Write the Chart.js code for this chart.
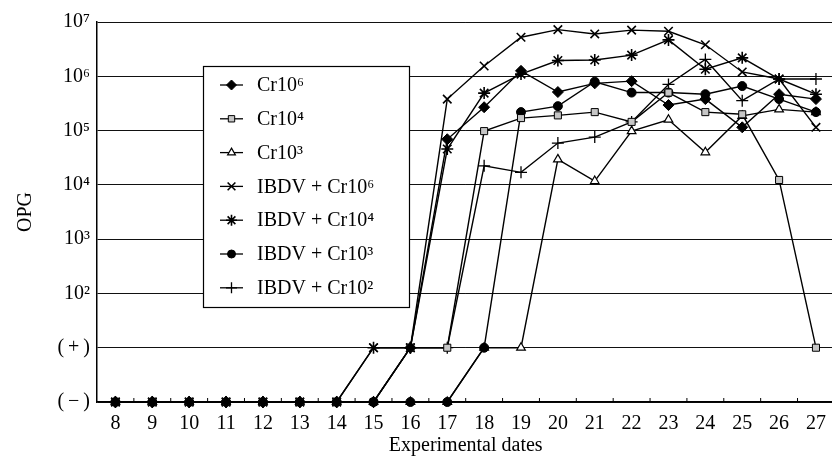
<!DOCTYPE html>
<html lang="en">
<head>
<meta charset="UTF-8" />
<title>OPG by experimental date</title>
<script src="https://cdn.jsdelivr.net/npm/chart.js"></script>
<style>
  html, body { margin: 0; background: #fff; overflow: hidden; }
  .wrap { width: 842px; height: 463px; }
</style>
</head>
<body>
<div class="wrap"><canvas id="opgChart" width="842" height="463"></canvas></div>
<script>
// categories and axis labels
const dates = ["8", "9", "10", "11", "12", "13", "14", "15", "16", "17",
  "18", "19", "20", "21", "22", "23", "24", "25", "26", "27"];
const levelLabels = ["(\u2009\u2212\u2009)", "(\u2009+\u2009)", "10²", "10³", "10⁴", "10⁵", "10⁶", "10⁷"];
const seriesNames = ["Cr10⁶", "Cr10⁴", "Cr10³", "IBDV + Cr10⁶", "IBDV + Cr10⁴", "IBDV + Cr10³", "IBDV + Cr10²"];

// values on the OPG level scale: 0 = (−), 1 = (+), k = 10^k
const cr6 = [0, 0, 0, 0, 0, 0, 0, 0, 1, 4.84, 5.43, 6.10, 5.71, 5.87, 5.91, 5.47, 5.58, 5.06, 5.67, 5.58];
const cr4 = [0, 0, 0, 0, 0, 0, 0, 0, 1, 1, 4.99, 5.23, 5.28, 5.34, 5.16, 5.70, 5.34, 5.30, 4.09, 1];
const cr3 = [0, 0, 0, 0, 0, 0, 0, 0, 0, 0, 1, 1, 4.47, 4.07, 4.99, 5.20, 4.60, 5.27, 5.39, 5.34];
const ibdvCr6 = [0, 0, 0, 0, 0, 0, 0, 1, 1, 5.58, 6.19, 6.72, 6.86, 6.78, 6.85, 6.83, 6.58, 6.08, 5.95, 5.06];
const ibdvCr4 = [0, 0, 0, 0, 0, 0, 0, 1, 1, 4.66, 5.69, 6.04, 6.29, 6.30, 6.39, 6.67, 6.13, 6.34, 5.95, 5.67];
const ibdvCr3 = [0, 0, 0, 0, 0, 0, 0, 0, 0, 0, 1, 5.34, 5.45, 5.90, 5.70, 5.70, 5.67, 5.82, 5.58, 5.34];
const ibdvCr2 = [0, 0, 0, 0, 0, 0, 0, 0, 1, 1, 4.35, 4.23, 4.77, 4.88, 5.16, 5.85, 6.31, 5.55, 5.95, 5.95];

const seriesValues = [cr6, cr4, cr3, ibdvCr6, ibdvCr4, ibdvCr3, ibdvCr2];
const markers = [
  { style: "rectRot", fill: "#000", r: 5.5, bw: 1, order: 0 },
  { style: "rect", fill: "#c6c6c6", r: 5, bw: 1, order: 0 },
  { style: "triangle", fill: "#fff", r: 5, bw: 1.2, order: 1 },
  { style: "crossRot", fill: "#000", r: 6, bw: 1.6, order: 0 },
  { style: "star", fill: "#000", r: 6, bw: 1.6, order: 0 },
  { style: "circle", fill: "#000", r: 4.5, bw: 1, order: 0 },
  { style: "cross", fill: "#000", r: 6, bw: 1.3, order: 0 },
];

const serif = "'Liberation Serif', 'DejaVu Serif', serif";

// legend box inside the plot, plus short inward ticks on the x axis
const boxLegend = {
  id: "boxLegend",
  afterDraw(chart) {
    const ctx = chart.ctx;
    const xs = chart.scales.x;
    ctx.save();
    ctx.strokeStyle = "#000";
    ctx.lineWidth = 1;
    ctx.beginPath();
    for (let i = 1; i <= dates.length; i++) {
      const x = i < dates.length
        ? (xs.getPixelForValue(i - 1) + xs.getPixelForValue(i)) / 2
        : xs.right;
      ctx.moveTo(x, xs.top);
      ctx.lineTo(x, xs.top - 4);
    }
    ctx.stroke();

    const left = 203, top = 66, w = 206, h = 241;
    ctx.fillStyle = "#fff";
    ctx.fillRect(left, top, w, h);
    ctx.lineWidth = 1.2;
    ctx.strokeRect(left + 0.5, top + 0.5, w, h);
    ctx.font = "20px " + serif;
    ctx.textBaseline = "middle";
    seriesNames.forEach((name, i) => {
      const y = top + 19 + i * 33.8;
      const m = markers[i];
      ctx.strokeStyle = "#000";
      ctx.lineWidth = 1.3;
      ctx.beginPath();
      ctx.moveTo(left + 17, y);
      ctx.lineTo(left + 40, y);
      ctx.stroke();
      ctx.fillStyle = m.fill;
      ctx.lineWidth = m.bw;
      Chart.helpers.drawPoint(ctx, { pointStyle: m.style, radius: m.r - 0.5, borderWidth: m.bw, rotation: 0 }, left + 28.5, y);
      ctx.fillStyle = "#000";
      ctx.fillText(name, left + 54, y + 1);
    });
    ctx.restore();
  },
};

new Chart(document.getElementById("opgChart").getContext("2d"), {
  type: "line",
  data: {
    labels: dates,
    datasets: seriesValues.map((vals, i) => ({
      label: seriesNames[i],
      data: vals,
      order: markers[i].order,
      borderColor: "#000",
      borderWidth: 1.4,
      pointStyle: markers[i].style,
      pointRadius: markers[i].r,
      pointBorderWidth: markers[i].bw,
      pointBackgroundColor: markers[i].fill,
      pointBorderColor: "#000",
      tension: 0,
      fill: false,
      clip: false,
    })),
  },
  options: {
    responsive: false,
    animation: false,
    devicePixelRatio: 1,
    layout: { padding: { top: 22, right: 2, left: 0, bottom: 0 } },
    plugins: {
      legend: { display: false },
      tooltip: { enabled: false },
    },
    scales: {
      x: {
        offset: true,
        grid: { display: false },
        border: { display: true, color: "#000", width: 1.5 },
        ticks: { color: "#000", padding: 2, font: { family: serif, size: 20 }, maxRotation: 0, autoSkip: false },
        title: { display: true, text: "Experimental dates", color: "#000", font: { family: serif, size: 20 }, padding: { top: 0, bottom: 5 } },
        afterFit(scale) { scale.height = 61; },
      },
      y: {
        min: 0,
        max: 7,
        grid: { color: "#111", lineWidth: 1, drawTicks: false },
        border: { display: true, color: "#000", width: 1.5 },
        ticks: {
          stepSize: 1,
          color: "#000",
          padding: 7,
          font: { family: serif, size: 20 },
          callback: (v) => levelLabels[v],
        },
        title: { display: true, text: "OPG", color: "#000", font: { family: serif, size: 20 }, padding: { top: 14, bottom: 0 } },
        afterFit(scale) { scale.width = 97; },
      },
    },
  },
  plugins: [boxLegend],
});
</script>
</body>
</html>
